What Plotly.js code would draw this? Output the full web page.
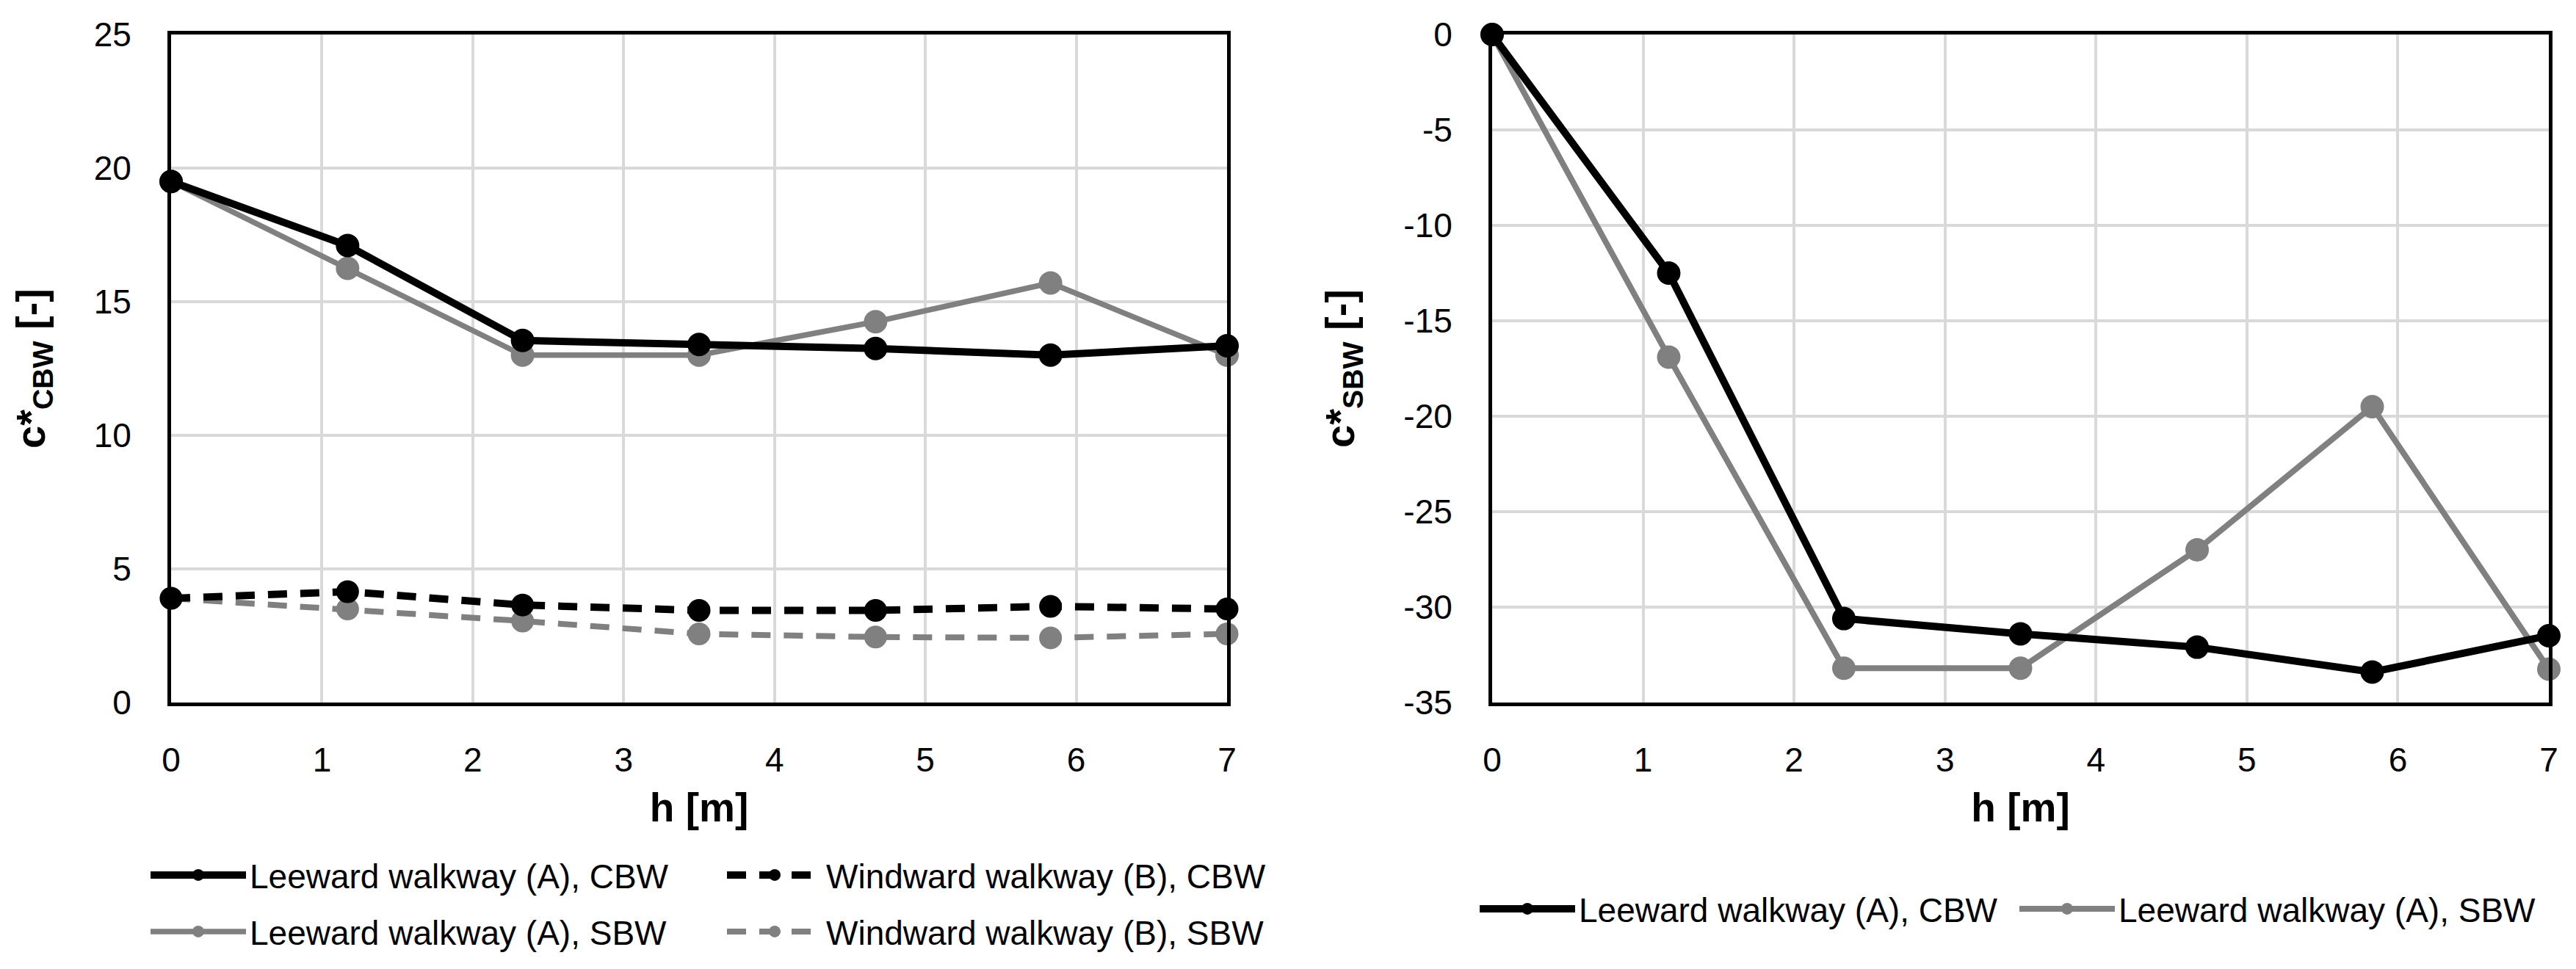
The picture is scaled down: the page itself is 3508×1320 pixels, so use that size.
<!DOCTYPE html>
<html>
<head>
<meta charset="utf-8">
<script src="https://cdn.plot.ly/plotly-3.0.1.min.js"></script>
<style>html,body{margin:0;padding:0;background:#fff;}#chart{width:3508px;height:1320px;}</style>
</head>
<body>
<div id="chart"></div>
<script>
// heights h [m]
const heights = [0, 1.17, 2.33, 3.5, 4.67, 5.83, 7];

// left chart: c*CBW [-]
const leewardA_CBW = [19.5, 17.1, 13.55, 13.4, 13.25, 13.0, 13.35];
const windwardB_CBW = [3.9, 4.15, 3.65, 3.45, 3.45, 3.6, 3.5];
const leewardA_SBW = [19.5, 16.25, 13.0, 13.0, 14.25, 15.7, 13.0];
const windwardB_SBW = [3.9, 3.5, 3.05, 2.57, 2.45, 2.42, 2.57];

// right chart: c*SBW [-]
const rightLeewardA_CBW = [0, -12.5, -30.6, -31.4, -32.1, -33.4, -31.5];
const rightLeewardA_SBW = [0, -16.9, -33.2, -33.2, -27.0, -19.5, -33.25];

const seriesNames = [
  'Leeward walkway (A), CBW',
  'Windward walkway (B), CBW',
  'Leeward walkway (A), SBW',
  'Windward walkway (B), SBW'
];

const xTicks = [0, 1, 2, 3, 4, 5, 6, 7];
const leftYTicks = [0, 5, 10, 15, 20, 25];
const rightYTicks = [-35, -30, -25, -20, -15, -10, -5, 0];

const BLACK = '#000000';
const GREY = '#808080';
const FONT = 'Liberation Sans, Arial, sans-serif';
const DASH = '26px,18px';

function tr(x, y, name, color, width, dash, xa, ya, legend, msize) {
  return {
    type: 'scatter', mode: 'lines+markers', x: x, y: y, name: name,
    xaxis: xa, yaxis: ya, legend: legend, cliponaxis: false,
    line: {color: color, width: width, dash: dash},
    marker: {color: color, size: msize, symbol: 'circle'}
  };
}

const data = [
  tr(heights, windwardB_SBW, seriesNames[3], GREY, 8, DASH, 'x', 'y', 'legend2', 31),
  tr(heights, windwardB_CBW, seriesNames[1], BLACK, 10, DASH, 'x', 'y', 'legend', 31),
  tr(heights, leewardA_SBW, seriesNames[2], GREY, 7.5, 'solid', 'x', 'y', 'legend2', 32),
  tr(heights, leewardA_CBW, seriesNames[0], BLACK, 10, 'solid', 'x', 'y', 'legend', 32),
  tr(heights, rightLeewardA_SBW, seriesNames[2], GREY, 8, 'solid', 'x2', 'y2', 'legend3', 32),
  tr(heights, rightLeewardA_CBW, seriesNames[0], BLACK, 10, 'solid', 'x2', 'y2', 'legend3', 32)
];

const W = 3508, H = 1320;
const yDom = [(H - 957) / H, (H - 47) / H];

function xAxis(dom, anchor) {
  return {
    domain: dom, anchor: anchor, range: [0, 7], tickvals: xTicks, ticktext: xTicks.map(String),
    showgrid: true, gridcolor: '#d9d9d9', gridwidth: 4, zeroline: false,
    showline: true, mirror: true, linecolor: BLACK, linewidth: 5,
    ticks: '', ticklabelstandoff: 34,
    tickfont: {family: FONT, size: 46, color: BLACK},
    title: {text: '<b>h [m]</b>', font: {family: FONT, size: 55, color: BLACK}, standoff: 22},
    automargin: false
  };
}
function yAxis(range, ticks, title, anchor) {
  return {
    domain: yDom, anchor: anchor, range: range, tickvals: ticks, ticktext: ticks.map(String),
    showgrid: true, gridcolor: '#d9d9d9', gridwidth: 4, zeroline: false,
    showline: true, mirror: true, linecolor: BLACK, linewidth: 5,
    ticks: '', ticklabelstandoff: 40,
    tickfont: {family: FONT, size: 46, color: BLACK},
    title: {text: title, font: {family: FONT, size: 56, color: BLACK}, standoff: 50},
    automargin: false
  };
}

function legendCfg(y, x) {
  return {
    orientation: 'h', x: x, y: y, xanchor: 'left', yanchor: 'middle',
    font: {family: FONT, size: 46, color: BLACK},
    bgcolor: 'rgba(0,0,0,0)', itemwidth: 130, entrywidth: 640, traceorder: 'reversed',
    itemclick: false, itemdoubleclick: false
  };
}

const layout = {
  width: W, height: H,
  margin: {l: 0, r: 0, t: 0, b: 0},
  paper_bgcolor: '#ffffff', plot_bgcolor: '#ffffff',
  font: {family: FONT, color: BLACK},
  showlegend: true,
  xaxis: xAxis([233 / W, 1671 / W], 'y'),
  yaxis: yAxis([0, 25], leftYTicks, '<b>c*<sub>CBW</sub> [-]</b>', 'x'),
  xaxis2: xAxis([2032 / W, 3471 / W], 'y2'),
  yaxis2: yAxis([-35, 0], rightYTicks, '<b>c*<sub>SBW</sub> [-]</b>', 'x2'),
  legend: legendCfg((H - 1192) / H, 200 / W),
  legend2: legendCfg((H - 1269) / H, 200 / W),
  legend3: Object.assign(legendCfg((H - 1238) / H, 2010 / W), {entrywidth: 590})
};

Plotly.newPlot('chart', data, layout, {staticPlot: true, displayModeBar: false});
</script>
</body>
</html>
